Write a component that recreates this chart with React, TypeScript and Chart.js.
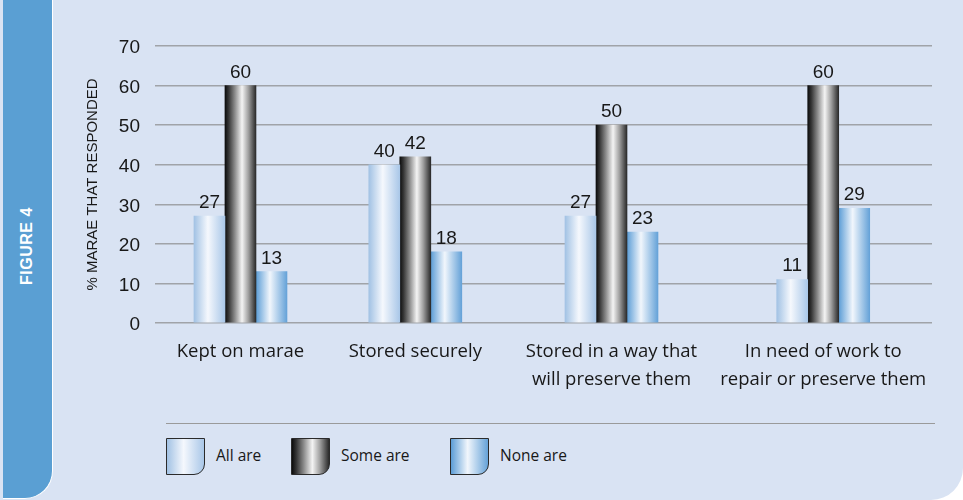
import React, { useEffect, useRef } from "react";
import { Chart, registerables } from "chart.js";

Chart.register(...registerables);

// ---- data ----
const categories: string[][] = [
  ["Kept on marae"],
  ["Stored securely"],
  ["Stored in a way that", "will preserve them"],
  ["In need of work to", "repair or preserve them"],
];
const allAre = [27, 40, 27, 11];
const someAre = [60, 42, 50, 60];
const noneAre = [13, 18, 23, 29];
const seriesNames = ["All are", "Some are", "None are"];
const yTicks = [0, 10, 20, 30, 40, 50, 60, 70];

// where each group sits along the horizontal axis (axis runs 0..4)
const groupSlots = [0.44, 1.34, 2.35, 3.44];

// ---- styling ----
const BAR_W = 31;
const TEXT = "#181818";
const PANEL = "#d9e3f3";
const STRIP = "#5a9fd3";
const GRID = "#a0a3a8";

type Stops = [number, string][];
const allStops: Stops = [
  [0, "#a2c2e4"],
  [0.45, "#f5f8fd"],
  [1, "#a9c7e8"],
];
const someStops: Stops = [
  [0, "#0c0c0c"],
  [0.12, "#363636"],
  [0.32, "#8c8c8c"],
  [0.55, "#f4f4f4"],
  [0.75, "#a2a2a2"],
  [0.92, "#505050"],
  [1, "#2a2a2a"],
];
const noneStops: Stops = [
  [0, "#5c9dd6"],
  [0.45, "#f1f6fc"],
  [1, "#65a2d8"],
];

const cssGradient = (stops: Stops) =>
  `linear-gradient(to right, ${stops.map(([o, c]) => `${c} ${o * 100}%`).join(", ")})`;

// horizontal gradient spanning one bar, positioned from the x scale
function barFill(stops: Stops, seriesPos: number) {
  return (ctx: any) => {
    const chart = ctx.chart;
    const xs = chart.scales?.x;
    if (!xs || ctx.type !== "data" || !ctx.raw) return stops[1][1];
    const cx = xs.getPixelForValue(ctx.raw.x) + (seriesPos - 1) * BAR_W;
    if (!Number.isFinite(cx)) return stops[1][1];
    const g = chart.ctx.createLinearGradient(cx - BAR_W / 2, 0, cx + BAR_W / 2, 0);
    stops.forEach(([o, c]) => g.addColorStop(o, c));
    return g;
  };
}

const toPoints = (values: number[]) => values.map((v, i) => ({ x: groupSlots[i], y: v }));

// value printed above each bar
const valueLabels = {
  id: "valueLabels",
  afterDatasetsDraw(chart: any) {
    const { ctx } = chart;
    ctx.save();
    ctx.font = '19px "Liberation Sans", Arial, sans-serif';
    ctx.fillStyle = TEXT;
    ctx.textAlign = "center";
    ctx.textBaseline = "alphabetic";
    chart.data.datasets.forEach((ds: any, i: number) => {
      const meta = chart.getDatasetMeta(i);
      meta.data.forEach((el: any, j: number) => {
        ctx.fillText(String(ds.data[j].y), el.x, el.y - 8);
      });
    });
    ctx.restore();
  },
};

function BarChart() {
  const ref = useRef<HTMLCanvasElement | null>(null);

  useEffect(() => {
    if (!ref.current) return;
    const chart = new Chart(ref.current, {
      type: "bar",
      data: {
        datasets: [
          { label: seriesNames[0], data: toPoints(allAre), backgroundColor: barFill(allStops, 0) },
          { label: seriesNames[1], data: toPoints(someAre), backgroundColor: barFill(someStops, 1) },
          { label: seriesNames[2], data: toPoints(noneAre), backgroundColor: barFill(noneStops, 2) },
        ] as any,
      },
      options: {
        animation: false,
        responsive: false,
        events: [],
        barThickness: BAR_W,
        layout: { padding: { left: 80, right: 31, top: 46, bottom: 22 } },
        plugins: {
          legend: { display: false },
          tooltip: { enabled: false },
        },
        scales: {
          x: {
            type: "linear",
            min: 0,
            max: 4,
            offset: false,
            bounds: "data",
            grid: { display: false, offset: false, drawTicks: false },
            border: { display: false },
            afterBuildTicks: (s: any) => {
              s.ticks = groupSlots.map((v) => ({ value: v }));
            },
            afterFit: (s: any) => {
              s.height = 70;
            },
            ticks: {
              autoSkip: false,
              minRotation: 0,
              maxRotation: 0,
              padding: 15,
              color: TEXT,
              font: { family: '"Open Sans", sans-serif', size: 18.5, lineHeight: 1.5 },
              callback: (_v: any, i: number) => categories[i],
            },
          },
          y: {
            min: 0,
            max: 70,
            bounds: "data",
            grid: { color: GRID, lineWidth: 1.5, drawTicks: false },
            border: { display: false },
            afterBuildTicks: (s: any) => {
              s.ticks = yTicks.map((v) => ({ value: v }));
            },
            afterFit: (s: any) => {
              s.width = 75;
            },
            ticks: {
              padding: 15,
              labelOffset: 2,
              color: TEXT,
              font: { family: '"Liberation Sans", Arial, sans-serif', size: 19 },
            },
            title: {
              display: true,
              text: "% MARAE THAT RESPONDED",
              color: TEXT,
              padding: { top: 4, bottom: 0 },
              font: { family: '"Liberation Sans", Arial, sans-serif', size: 15, lineHeight: 1.2 },
            },
          },
        },
      } as any,
      plugins: [valueLabels],
    });
    return () => chart.destroy();
  }, []);

  return (
    <canvas
      ref={ref}
      width={963}
      height={415}
      style={{ position: "absolute", left: 0, top: 0, width: 963, height: 415 }}
    />
  );
}

function LegendItem({ stops, label, left }: { stops: Stops; label: string; left: number }) {
  return (
    <div style={{ position: "absolute", left, top: 438, height: 37, display: "flex", alignItems: "center" }}>
      <div
        style={{
          width: 39,
          height: 37,
          boxSizing: "border-box",
          border: "1.5px solid #2b2b2b",
          borderBottomRightRadius: 11,
          background: cssGradient(stops),
        }}
      />
      <span
        style={{
          marginLeft: 11,
          marginTop: -3,
          fontFamily: '"Open Sans", sans-serif',
          fontSize: 15.5,
          color: TEXT,
          lineHeight: "20px",
        }}
      >
        {label}
      </span>
    </div>
  );
}

export default function App() {
  return (
    <div
      style={{
        position: "fixed",
        left: 0,
        top: 0,
        width: 963,
        height: 500,
        background: "#ffffff",
        overflow: "hidden",
      }}
    >
      <div
        style={{
          position: "absolute",
          left: 0,
          top: 0,
          width: 963,
          height: 500,
          background: PANEL,
          borderBottomRightRadius: 32,
        }}
      />
      <div
        style={{
          position: "absolute",
          left: 3,
          top: 0,
          width: 49,
          height: 498,
          background: STRIP,
          borderRight: "1.5px solid #ffffff",
          borderBottom: "1.5px solid #ffffff",
          borderBottomRightRadius: 28,
        }}
      />
      <div
        style={{
          position: "absolute",
          left: 27,
          top: 246,
          transform: "translate(-50%, -50%) rotate(-90deg)",
          whiteSpace: "nowrap",
          color: "#ffffff",
          fontFamily: '"Liberation Sans", Arial, sans-serif',
          fontWeight: 700,
          fontSize: 16,
          letterSpacing: 0.5,
        }}
      >
        FIGURE 4
      </div>
      <BarChart />
      <div
        style={{
          position: "absolute",
          left: 166,
          top: 423,
          width: 769,
          height: 0,
          borderTop: "1.5px solid #9a9a9a",
        }}
      />
      <LegendItem stops={allStops} label={seriesNames[0]} left={166} />
      <LegendItem stops={someStops} label={seriesNames[1]} left={291} />
      <LegendItem stops={noneStops} label={seriesNames[2]} left={450} />
    </div>
  );
}
